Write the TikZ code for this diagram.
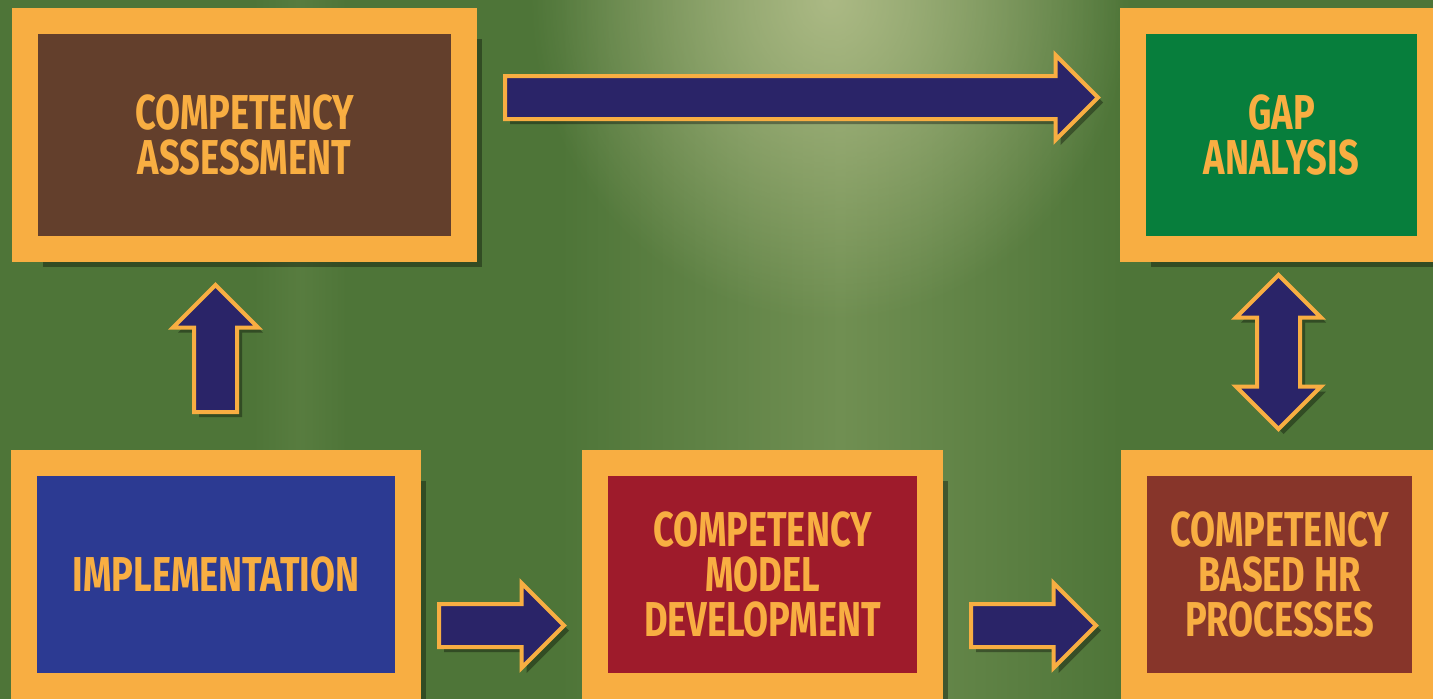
\documentclass[tikz,border=0pt]{standalone}
\usepackage{fontspec}
\newfontfamily\boxfont[FakeStretch=0.74]{Fira Sans}
\usetikzlibrary{shapes.arrows,shadows,fadings}
\definecolor{bgbase}{RGB}{78,117,56}
\definecolor{bgband}{RGB}{112,143,82}
\definecolor{bgglow}{RGB}{178,190,138}
\definecolor{frame}{RGB}{248,174,66}
\definecolor{navy}{RGB}{42,36,104}
\definecolor{assessbrown}{RGB}{99,63,44}
\definecolor{gapgreen}{RGB}{7,126,60}
\definecolor{implblue}{RGB}{44,58,146}
\definecolor{modelred}{RGB}{158,27,43}
\definecolor{hrbrown}{RGB}{135,53,42}
\tikzfading[name=glowfade, inner color=transparent!0, outer color=transparent!100]
\tikzset{%
	box/.style    = {draw=frame, line width=26pt, inner sep=0pt, align=center, text=frame, font=\boxfont\bfseries\fontsize{49}{45}\selectfont, drop shadow={shadow xshift=18pt, shadow yshift=-18pt, opacity=.35, fill=black}},
	flow/.style   = {single arrow, draw=frame, line width=4pt, fill=navy, inner sep=0pt, inner ysep=19.5pt, single arrow head extend=21pt, single arrow tip angle=90, drop shadow={shadow xshift=5pt, shadow yshift=-5pt, opacity=.35, fill=black}},
	twoway/.style = {double arrow, draw=frame, line width=4pt, fill=navy, inner sep=0pt, inner ysep=19.5pt, double arrow head extend=21pt, double arrow tip angle=90, drop shadow={shadow xshift=5pt, shadow yshift=-5pt, opacity=.35, fill=black}},
}
\begin{document}
\begin{tikzpicture}[x=1pt,y=-1pt]
	\useasboundingbox (0,0) rectangle (1433,699);
	% background
	\fill[bgbase] (0,0) rectangle (1433,699);
	\shade[left color=bgbase, right color=bgbase, middle color=bgband] (560,0) rectangle (1120,699);
	\shade[left color=bgbase, right color=bgbase, middle color=bgband, opacity=.3] (250,0) rectangle (350,699);
	\fill[bgglow, path fading=glowfade, fill opacity=.9] (830,0) ellipse (300 and 320);
	
	% boxes
	\node[box, fill=assessbrown, minimum width=439pt, minimum height=228pt] (assess) at (244.5,135) {COMPETENCY\\ASSESSMENT};
	\node[box, fill=gapgreen, minimum width=297pt, minimum height=228pt] (gap) at (1281.5,135) {GAP\\ANALYSIS};
	\node[box, fill=implblue, minimum width=384pt, minimum height=223pt] (impl) at (216,574.5) {IMPLEMENTATION};
	\node[box, fill=modelred, minimum width=335pt, minimum height=223pt] (model) at (762.5,574.5) {COMPETENCY\\MODEL\\DEVELOPMENT};
	\node[box, fill=hrbrown, minimum width=291pt, minimum height=223pt] (hr) at (1279.5,574.5) {COMPETENCY\\BASED HR\\PROCESSES};
	
	% arrows
	\node[flow, minimum height=593pt, anchor=tail] (assess2gap) at (503,97.5) {};
	\node[flow, minimum height=127pt, anchor=tail, rotate=90] (impl2assess) at (215.5,414) {};
	\node[flow, minimum height=125pt, anchor=tail] (impl2model) at (437,625.5) {};
	\node[flow, minimum height=125pt, anchor=tail] (model2hr) at (969,625.5) {};
	\node[twoway, minimum height=154pt, rotate=90] (gap2hr) at (1278.5,352) {};
\end{tikzpicture}
\end{document}
